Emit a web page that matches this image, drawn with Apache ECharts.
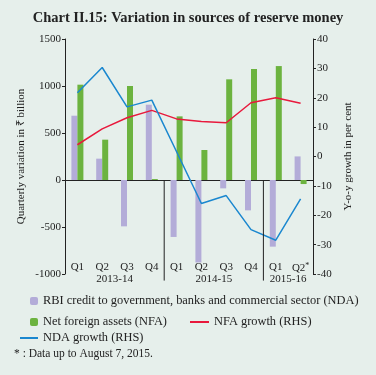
<!DOCTYPE html>
<html>
<head>
<meta charset="utf-8">
<script src="https://cdn.jsdelivr.net/npm/echarts@6/dist/echarts.min.js"></script>
<style>
html,body{margin:0;padding:0;background:#e6efeb;}
#chart{width:376px;height:375px;}
</style>
</head>
<body>
<div id="chart"></div>
<script>
var quarters = ['Q1', 'Q2', 'Q3', 'Q4', 'Q1', 'Q2', 'Q3', 'Q4', 'Q1', 'Q2*'];
var years = ['2013-14', '2014-15', '2015-16'];
var yearPos = [2, 6, 9];     // year label sits on boundary between quarters
var groupEdges = [4, 8];     // vertical separators between years
var ndaBar = [684, 227, -493, 801, -606, -877, -89, -323, -709, 251];
var nfaBar = [1014, 429, 1000, 10, 677, 319, 1071, 1181, 1212, -43];
var nfaGrowth = [4.0, 9.4, 13.2, 15.7, 12.8, 11.9, 11.5, 18.3, 20.0, 18.1];
var ndaGrowth = [21.7, 30.3, 16.9, 19.2, 1.6, -16.0, -13.3, -24.9, -28.5, -14.4];

var serif = 'Liberation Serif';
var myChart = echarts.init(document.getElementById('chart'));

var sepSeries = [];
for (var i = 0; i < groupEdges.length; i++) {
    sepSeries.push({
        name: 'sep' + i,
        type: 'line',
        xAxisIndex: 2,
        yAxisIndex: 0,
        symbol: 'none',
        clip: false,
        silent: true,
        lineStyle: {color: '#222', width: 1},
        data: [[groupEdges[i], 0], [groupEdges[i], -1070]]
    });
}

var option = {
    backgroundColor: '#e6efeb',
    animation: false,
    title: [
        {
            text: 'Chart II.15: Variation in sources of reserve money',
            left: 'center',
            top: 6,
            textStyle: {fontFamily: serif, fontSize: 14.5, fontWeight: 'bold', color: '#222'}
        },
        {
            text: '* : Data up to August 7, 2015.',
            left: 9,
            top: 343,
            textStyle: {fontFamily: serif, fontSize: 11.5, fontWeight: 'normal', color: '#222'}
        }
    ],
    legend: [
        {
            left: 25, top: 290, itemWidth: 8, itemHeight: 8,
            data: ['RBI credit to government, banks and commercial sector (NDA)'],
            textStyle: {fontFamily: serif, fontSize: 12.4, color: '#222'}
        },
        {
            left: 25, top: 311, itemWidth: 8, itemHeight: 8,
            data: ['Net foreign assets (NFA)'],
            textStyle: {fontFamily: serif, fontSize: 12.4, color: '#222'}
        },
        {
            left: 185, top: 311, itemWidth: 19, itemHeight: 2,
            data: [{name: 'NFA growth (RHS)', icon: 'rect'}],
            textStyle: {fontFamily: serif, fontSize: 12.4, color: '#222'}
        },
        {
            left: 15, top: 327, itemWidth: 18, itemHeight: 2,
            data: [{name: 'NDA growth (RHS)', icon: 'rect'}],
            textStyle: {fontFamily: serif, fontSize: 12.4, color: '#222'}
        }
    ],
    grid: {left: 65, right: 63, top: 39, height: 235},
    xAxis: [
        {
            type: 'category',
            data: quarters,
            axisLine: {onZero: true, lineStyle: {color: '#222'}},
            axisTick: {length: 4, lineStyle: {color: '#222'}},
            axisLabel: {show: false}
        },
        {
            type: 'category',
            data: quarters,
            position: 'bottom',
            axisLine: {show: false, onZero: false},
            axisTick: {show: false},
            axisLabel: {
                margin: -12,
                interval: 0,
                fontFamily: serif, fontSize: 11, color: '#222',
                formatter: function (v) {
                    return v.indexOf('*') > -1 ? v.replace('*', '') + '{s|*}' : v;
                },
                rich: {s: {fontSize: 8, verticalAlign: 'top', padding: [0, 0, 5, 0]}}
            }
        },
        {
            type: 'value',
            min: 0,
            max: 10,
            interval: 1,
            position: 'bottom',
            axisLine: {show: false, onZero: false},
            axisTick: {show: false},
            splitLine: {show: false},
            axisLabel: {
                margin: 0,
                showMinLabel: true,
                showMaxLabel: true,
                fontFamily: serif, fontSize: 11, color: '#222',
                formatter: function (v) {
                    var k = yearPos.indexOf(v);
                    return k > -1 ? years[k] : '';
                }
            }
        }
    ],
    yAxis: [
        {
            type: 'value',
            min: -1000,
            max: 1500,
            interval: 500,
            name: 'Quarterly variation in ₹ billion',
            nameLocation: 'middle',
            nameGap: 38,
            nameMoveOverlap: false,
            nameTextStyle: {fontFamily: serif, fontSize: 11, color: '#222'},
            axisLine: {show: true, lineStyle: {color: '#222'}},
            axisTick: {show: true, length: 3, lineStyle: {color: '#222'}},
            axisLabel: {margin: 4, fontFamily: serif, fontSize: 11, color: '#222',
                formatter: function (v) { return String(v); }},
            splitLine: {show: false}
        },
        {
            type: 'value',
            min: -40,
            max: 40,
            interval: 10,
            name: 'Y-o-y growth in per cent',
            nameLocation: 'middle',
            nameGap: 28,
            nameTextStyle: {fontFamily: serif, fontSize: 11, color: '#222'},
            axisLine: {show: true, lineStyle: {color: '#222'}},
            axisTick: {show: true, length: 3, lineStyle: {color: '#222'}},
            axisLabel: {margin: 4, fontFamily: serif, fontSize: 11, color: '#222'},
            splitLine: {show: false}
        }
    ],
    series: [
        {
            name: 'RBI credit to government, banks and commercial sector (NDA)',
            type: 'bar',
            barWidth: 6,
            barGap: '0%',
            itemStyle: {color: '#b3acd8'},
            data: ndaBar
        },
        {
            name: 'Net foreign assets (NFA)',
            type: 'bar',
            barWidth: 6,
            barGap: '0%',
            itemStyle: {color: '#6cb33f'},
            data: nfaBar
        },
        {
            name: 'NFA growth (RHS)',
            type: 'line',
            yAxisIndex: 1,
            symbol: 'none',
            lineStyle: {color: '#e8193c', width: 1.5},
            itemStyle: {color: '#e8193c'},
            data: nfaGrowth
        },
        {
            name: 'NDA growth (RHS)',
            type: 'line',
            yAxisIndex: 1,
            symbol: 'none',
            lineStyle: {color: '#1a87cf', width: 1.5},
            itemStyle: {color: '#1a87cf'},
            data: ndaGrowth
        }
    ].concat(sepSeries)
};
myChart.setOption(option);
</script>
</body>
</html>
